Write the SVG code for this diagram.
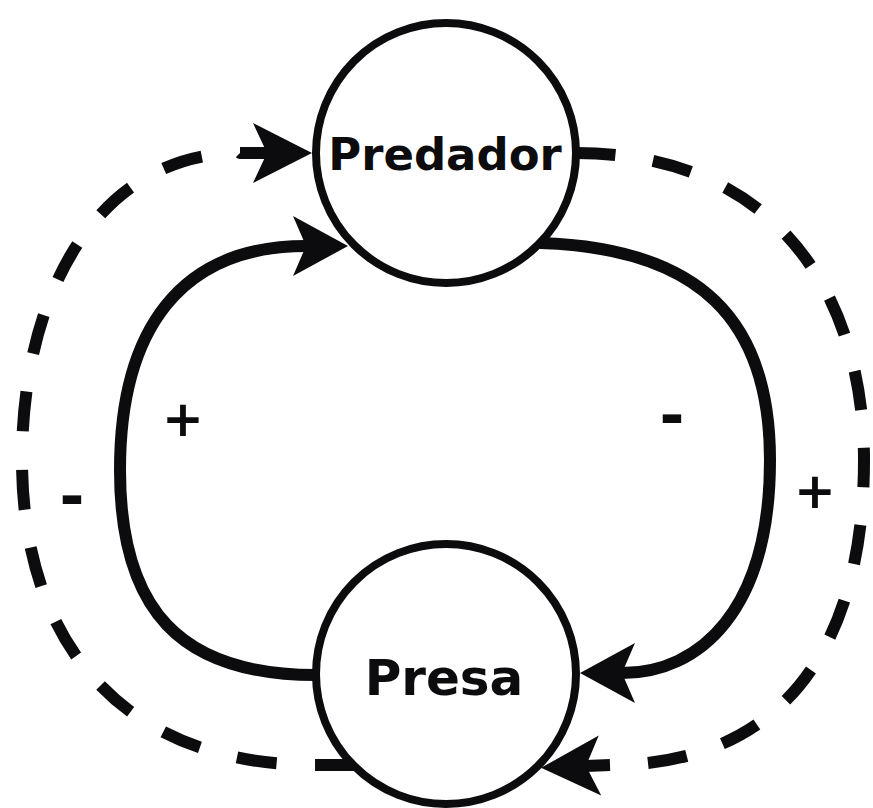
<svg xmlns="http://www.w3.org/2000/svg" width="873" height="808" viewBox="0 0 873 808">
<style>
.node{fill:#fff;stroke:#0c0b0d;stroke-width:8}
.ntext{font-family:"DejaVu Sans","Verdana",sans-serif;font-weight:bold;fill:#0c0b0d;text-anchor:middle}
.solid{fill:none;stroke:#0c0b0d;stroke-width:12}
.dash{fill:none;stroke:#0c0b0d;stroke-width:12;stroke-dasharray:51 49}
.stub{fill:none;stroke:#0c0b0d;stroke-width:12}
.lbl{font-family:"DejaVu Sans",sans-serif;font-weight:bold;fill:#0c0b0d;text-anchor:middle}
</style>
<defs>
<marker id="arrS" markerUnits="userSpaceOnUse" viewBox="-16 -32 60 64" markerWidth="60" markerHeight="64" refX="0" refY="0" orient="auto">
<path d="M0,0 L-13,-30 L42,0 L-13,30 Z" fill="#0c0b0d"/>
</marker>
<marker id="arrD" markerUnits="userSpaceOnUse" viewBox="-16 -32 64 64" markerWidth="64" markerHeight="64" refX="0" refY="0" orient="auto">
<path d="M0,0 L-14,-30 L45,0 L-14,30 Z" fill="#0c0b0d"/>
</marker>
</defs>
<rect width="873" height="808" fill="#fff"/>
<g id="connectors">
<path class="solid" d="M316,675 C180,675 120,610 120,470 C120,330 180,246 306,246" marker-end="url(#arrS)"/>
<path class="solid" d="M540,243 C700,248 770,320 770,460 C770,610 700,673 622,673" marker-end="url(#arrS)"/>
<path class="dash" pathLength="1200" d="M576,153 C780,153 864,300 864,460 C864,650 780,765 610,765"/>
<path class="stub" d="M610,765 L586,766" marker-end="url(#arrD)"/>
<path class="dash" pathLength="1200" d="M355,765 L315,765 C120,765 22,640 22,460 C22,290 100,153 240,153"/>
<path class="stub" d="M240,153 L267,153" marker-end="url(#arrD)"/>
<text class="lbl" x="183" y="436" font-size="50">+</text>
<text class="lbl" x="72" y="517" font-size="60">-</text>
<text class="lbl" x="672" y="436" font-size="60">-</text>
<text class="lbl" x="815" y="508" font-size="50">+</text>
</g>
<g id="predador">
<circle class="node" cx="446" cy="153" r="130"/>
<text class="ntext" x="445" y="170" font-size="45">Predador</text>
</g>
<g id="presa">
<circle class="node" cx="446" cy="674" r="130"/>
<text class="ntext" x="444" y="695" font-size="50">Presa</text>
</g>
</svg>
